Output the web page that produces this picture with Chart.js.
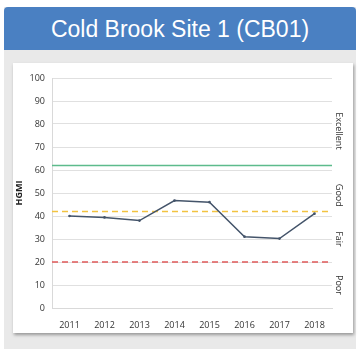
<!DOCTYPE html>
<html>
<head>
<meta charset="utf-8">
<script src="https://cdn.jsdelivr.net/npm/chart.js@4"></script>
<style>
  body { margin: 0; background: #fff; font-family: "Liberation Sans", Arial, sans-serif; }
  #panel { position: absolute; left: 4px; top: 7px; width: 352px; height: 342px; background: #e9e9e9; }
  #head { height: 43px; background: #4a80c2; border-radius: 4px 4px 0 0; color: #fff;
          font-size: 23px; text-align: center; line-height: 45px; }
  #card { position: absolute; left: 9px; top: 56px; width: 340px; height: 270px; background: #fff;
          box-shadow: 1px 2px 3px rgba(0,0,0,0.35); }
</style>
</head>
<body>
<div id="panel">
  <div id="head">Cold Brook Site 1 (CB01)</div>
  <div id="card"><canvas id="out" width="340" height="270"></canvas></div>
</div>
<script>
const years = ["2011", "2012", "2013", "2014", "2015", "2016", "2017", "2018"];
const hgmi = [40, 39.4, 38, 46.7, 46, 31, 30.2, 41];

// condition thresholds (solid green, dashed yellow, dashed red)
const limitValues = [62, 42, 20];
const limitColors = ["#5dbb8c", "#f2c340", "#e05a5a"];
const limitDashed = [false, true, true];

// band names on the right side
const bandNames = ["Excellent", "Good", "Fair", "Poor"];
const bandValues = [77, 49, 30, 10];

const limitsPlugin = {
  id: "limits",
  beforeDatasetsDraw(chart) {
    const ctx = chart.ctx;
    const area = chart.chartArea;
    const y = chart.scales.y;
    ctx.save();
    for (let i = 0; i < limitValues.length; i++) {
      const py = y.getPixelForValue(limitValues[i]);
      ctx.beginPath();
      ctx.strokeStyle = limitColors[i];
      ctx.lineWidth = 1.5;
      ctx.setLineDash(limitDashed[i] ? [6, 4] : []);
      ctx.moveTo(area.left, py);
      ctx.lineTo(area.right, py);
      ctx.stroke();
    }
    ctx.restore();
  },
  afterDraw(chart) {
    const ctx = chart.ctx;
    const area = chart.chartArea;
    const y = chart.scales.y;
    ctx.save();
    ctx.fillStyle = "#333";
    ctx.font = "9px 'Open Sans', sans-serif";
    ctx.textAlign = "center";
    ctx.textBaseline = "middle";
    for (let i = 0; i < bandNames.length; i++) {
      ctx.save();
      ctx.translate(area.right + 7, y.getPixelForValue(bandValues[i]));
      ctx.rotate(Math.PI / 2);
      ctx.fillText(bandNames[i], 0, 0);
      ctx.restore();
    }
    ctx.restore();
  }
};

const tickFont = { size: 9, family: "'Open Sans', sans-serif" };
const canvasCtx = document.getElementById("out").getContext("2d");
const chartConfig = {
  type: "line",
  data: {
    labels: years,
    datasets: [
      {
        label: "HGMI",
        data: hgmi,
        borderColor: "#44546a",
        backgroundColor: "#44546a",
        borderWidth: 1.5,
        pointRadius: 0.6,
        tension: 0
      }
    ]
  },
  options: {
    responsive: false,
    animation: false,
    layout: { padding: { top: 15, right: 21, left: 0, bottom: 0 } },
    plugins: { legend: { display: false }, tooltip: { enabled: false } },
    scales: {
      x: {
        offset: true,
        grid: { display: false },
        border: { color: "#d9d9d9" },
        ticks: { color: "#333", font: tickFont, padding: 4, maxRotation: 0 },
        afterFit(scale) { scale.height = 25; }
      },
      y: {
        min: 0,
        max: 100,
        ticks: { stepSize: 10, color: "#333", font: tickFont, padding: 7 },
        grid: { color: "#e0e0e0", drawTicks: false },
        border: { color: "#d9d9d9" },
        title: {
          display: true,
          text: "HGMI",
          color: "#222",
          font: { size: 9, weight: "bold", family: "'Open Sans', sans-serif" },
          padding: { top: 1, bottom: 0 }
        },
        afterFit(scale) { scale.width = 39; }
      }
    }
  },
  plugins: [limitsPlugin]
};
window.chart = new Chart(canvasCtx, chartConfig);
</script>
</body>
</html>
